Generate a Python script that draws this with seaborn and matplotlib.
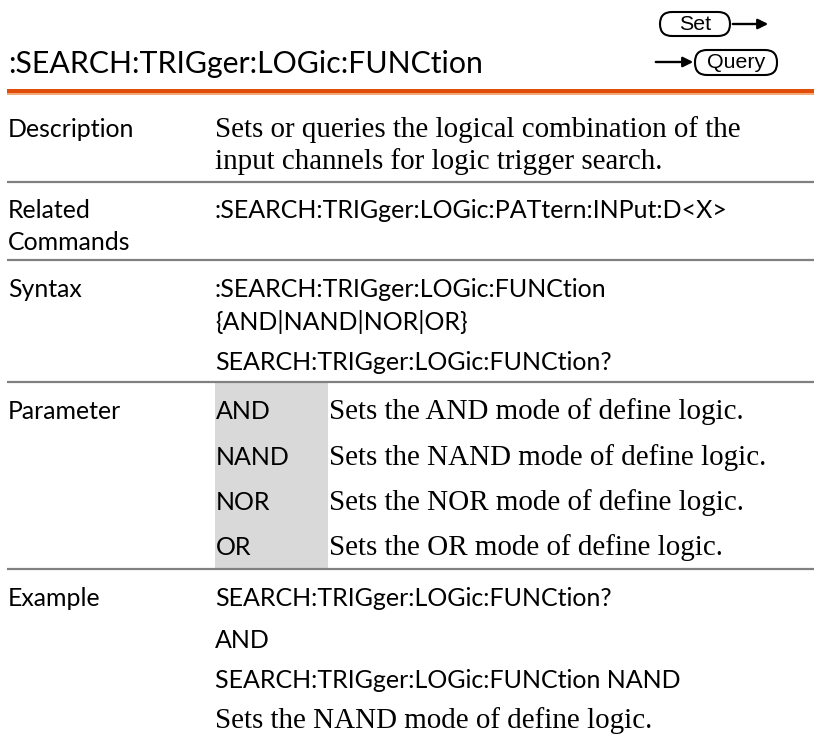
import matplotlib
matplotlib.use("Agg")
import matplotlib.pyplot as plt
import seaborn as sns
from matplotlib.patches import Rectangle, FancyBboxPatch

# ---- content ----
title = ":SEARCH:TRIGger:LOGic:FUNCtion"
row_labels = ["Description", "Related\nCommands", "Syntax", "Parameter", "Example"]
desc_lines = ["Sets or queries the logical combination of the",
              "input channels for logic trigger search."]
related_lines = [":SEARCH:TRIGger:LOGic:PATtern:INPut:D<X>"]
syntax_lines = [":SEARCH:TRIGger:LOGic:FUNCtion", "{AND|NAND|NOR|OR}",
                "SEARCH:TRIGger:LOGic:FUNCtion?"]
param_names = ["AND", "NAND", "NOR", "OR"]
param_desc = ["Sets the AND mode of define logic.",
              "Sets the NAND mode of define logic.",
              "Sets the NOR mode of define logic.",
              "Sets the OR mode of define logic."]
example_lines = ["SEARCH:TRIGger:LOGic:FUNCtion?", "AND",
                 "SEARCH:TRIGger:LOGic:FUNCtion NAND"]
example_note = "Sets the NAND mode of define logic."

sns.set_theme(style="white")
SANS = ["Lato", "DejaVu Sans"]
SERIF = ["Liberation Serif", "DejaVu Serif"]
ICON = ["Liberation Sans", "DejaVu Sans"]

W, H = 814, 739
fig = plt.figure(figsize=(W / 100, H / 100), dpi=100)
ax = fig.add_axes([0, 0, 1, 1])
ax.set_xlim(0, W)
ax.set_ylim(H, 0)
ax.axis("off")
renderer = fig.canvas.get_renderer()


def fit(text, family, target):
    t = ax.text(0, 0, text, family=family, fontsize=20)
    w = t.get_window_extent(renderer).width
    t.remove()
    return 20 * target / w


fs_title = fit(title, SANS, 475)
fs_label = fit("Description", SANS, 127)
fs_code = fit(related_lines[0], SANS, 514)
fs_serif = fit(desc_lines[0], SERIF, 527)
fs_icon = fit("Query", ICON, 58)

XL, XC, XP = 8, 215, 329
TXT = "#000000"

# title + orange rule
ax.text(XL, 73, title, family=SANS, fontsize=fs_title, color=TXT, va="baseline")
ax.add_patch(Rectangle((7, 89.3), W - 7, 4, color="#E14E0C", lw=0))
ax.add_patch(Rectangle((7, 93.3), W - 7, 1.8, color="#F3A878", lw=0))

# Set / Query icons
ax.add_patch(FancyBboxPatch((660, 12), 70, 24, boxstyle="round,pad=0,rounding_size=12",
                            fc="white", ec="black", lw=1.5))
ax.text(695, 30.5, "Set", family=ICON, fontsize=fs_icon, ha="center", va="baseline", color="black")
ax.annotate("", xy=(771, 24), xytext=(730, 24),
            arrowprops=dict(arrowstyle="-|>", color="black", lw=1.7, mutation_scale=15))
ax.add_patch(FancyBboxPatch((695, 50), 82, 25, boxstyle="round,pad=0,rounding_size=12",
                            fc="white", ec="black", lw=1.5))
ax.text(736, 68.5, "Query", family=ICON, fontsize=fs_icon, ha="center", va="baseline", color="black")
ax.annotate("", xy=(696, 62), xytext=(653, 62),
            arrowprops=dict(arrowstyle="-|>", color="black", lw=1.7, mutation_scale=15))

# separators
for y in [182, 260, 382, 569]:
    ax.plot([7, W], [y, y], color="#808080", lw=1.6, solid_capstyle="butt")

# gray parameter column
ax.add_patch(Rectangle((215, 383), 113, 185, color="#D9D9D9", lw=0, zorder=0))

# labels
ax.text(XL, 137, "Description", family=SANS, fontsize=fs_label, color=TXT, va="baseline")
ax.text(XL, 218, "Related", family=SANS, fontsize=fs_label, color=TXT, va="baseline")
ax.text(XL, 250, "Commands", family=SANS, fontsize=fs_label, color=TXT, va="baseline")
ax.text(XL, 297, "Syntax", family=SANS, fontsize=fs_label, color=TXT, va="baseline")
ax.text(XL, 419, "Parameter", family=SANS, fontsize=fs_label, color=TXT, va="baseline")
ax.text(XL, 606, "Example", family=SANS, fontsize=fs_label, color=TXT, va="baseline")

# description
for s, y in zip(desc_lines, [137, 169]):
    ax.text(XC, y, s, family=SERIF, fontsize=fs_serif, color=TXT, va="baseline")
# related
ax.text(XC, 218, related_lines[0], family=SANS, fontsize=fs_code, color=TXT, va="baseline")
# syntax
for s, y in zip(syntax_lines, [297, 330, 370]):
    ax.text(XC, y, s, family=SANS, fontsize=fs_code, color=TXT, va="baseline")
# parameters
for n, d, y in zip(param_names, param_desc, [419, 465, 510, 555]):
    ax.text(XC + 1, y, n, family=SANS, fontsize=fs_code, color=TXT, va="baseline")
    ax.text(XP, y, d, family=SERIF, fontsize=fs_serif, color=TXT, va="baseline")
# example
for s, y in zip(example_lines, [606, 648, 688]):
    ax.text(XC, y, s, family=SANS, fontsize=fs_code, color=TXT, va="baseline")
ax.text(XC, 728, example_note, family=SERIF, fontsize=fs_serif, color=TXT, va="baseline")

fig.savefig("out.png", dpi=100)
